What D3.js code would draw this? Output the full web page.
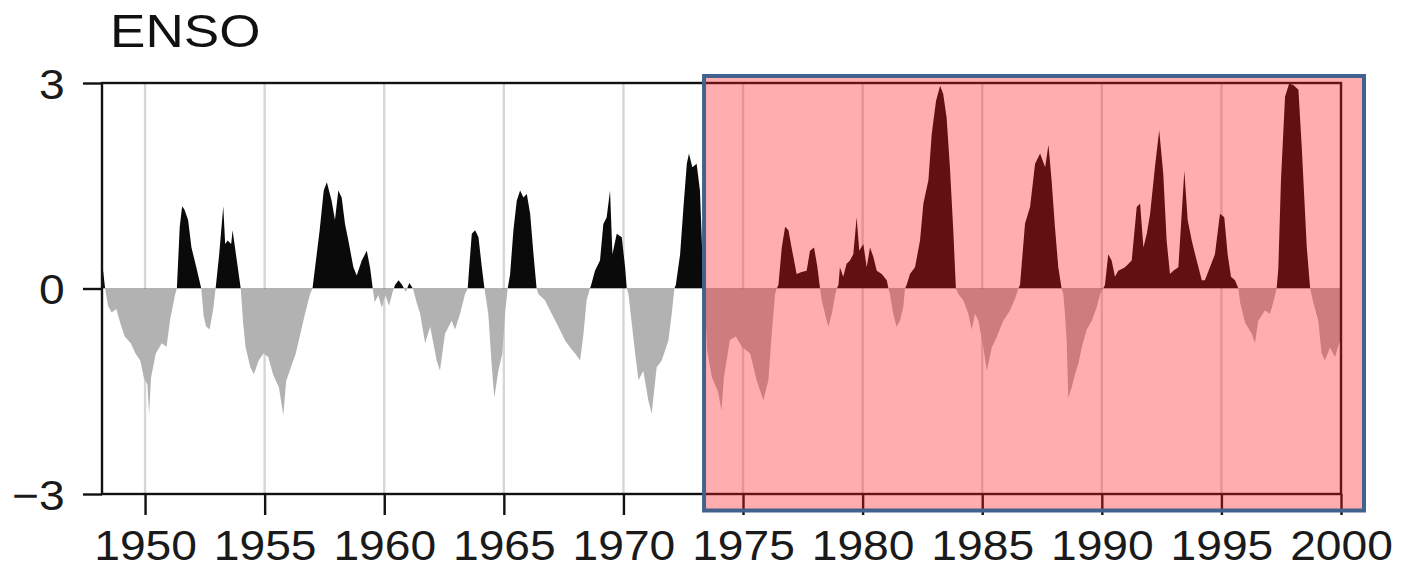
<!DOCTYPE html>
<html>
<head>
<meta charset="utf-8">
<script src="https://cdn.jsdelivr.net/npm/d3@7"></script>
<style>
  html, body { margin: 0; padding: 0; background: #fff; }
  svg { display: block; }
  text { font-family: "Liberation Sans", Arial, Helvetica, sans-serif; }
</style>
</head>
<body>
<svg id="chart" width="1403" height="568"></svg>
<script>
// ---- data ----
const title = "ENSO";
const xTicks = [1950, 1955, 1960, 1965, 1970, 1975, 1980, 1985, 1990, 1995, 2000];
const yTicks = [-3, 0, 3];
const highlightStart = 1973.35;   // start of shaded period

const years = [
 1948.15,1948.25,1948.33,1948.45,1948.6,1948.8,1948.96,1949.15,1949.4,1949.6,1949.8,1949.95,1950.1,1950.17,1950.25,1950.45,1950.7,1950.9,1951.05,1951.25,1951.33,
 1951.45,1951.55,1951.65,1951.8,1951.94,1952.15,1952.35,1952.45,1952.55,1952.7,1952.85,1952.95,
 1953.1,1953.27,1953.35,1953.45,1953.6,1953.66,1953.8,1954.0,
 1954.1,1954.2,1954.4,1954.55,1954.75,1954.95,1955.15,1955.35,1955.6,1955.78,1955.9,1956.1,1956.3,1956.5,1956.7,1956.9,1957.0,
 1957.3,1957.47,1957.6,1957.8,1957.94,1958.08,1958.22,1958.36,1958.5,1958.71,1958.85,1959.06,1959.27,1959.41,1959.52,
 1959.6,1959.75,1959.9,1960.05,1960.2,1960.35,1960.45,1960.6,1960.75,1960.9,1961.05,1961.2,
 1961.35,1961.5,1961.71,1961.92,1962.19,1962.33,1962.54,1962.82,1962.96,1963.17,1963.38,1963.49,
 1963.55,1963.66,1963.8,1963.94,1964.08,1964.19,
 1964.35,1964.49,1964.6,1964.77,1964.94,1965.05,1965.16,
 1965.26,1965.4,1965.54,1965.68,1965.82,1965.96,1966.1,1966.24,1966.37,
 1966.44,1966.72,1967.0,1967.28,1967.56,1967.77,1967.98,1968.19,1968.33,1968.46,1968.6,
 1968.65,1968.81,1969.02,1969.16,1969.3,1969.44,1969.54,1969.72,1969.93,1970.07,1970.14,
 1970.21,1970.49,1970.63,1970.83,1971.04,1971.18,1971.39,1971.6,1971.88,1972.02,1972.13,
 1972.19,1972.37,1972.51,1972.65,1972.74,1972.88,1973.06,1973.2,1973.35,
 1973.42,1973.5,1973.7,1973.95,1974.1,1974.2,1974.45,1974.7,1974.95,1975.3,1975.57,1975.85,1976.06,1976.2,1976.34,1976.41,
 1976.48,1976.62,1976.76,1976.9,1977.03,1977.24,1977.45,1977.66,1977.8,1977.97,1978.11,1978.22,
 1978.29,1978.5,1978.57,1978.71,1978.85,1978.92,
 1978.99,1979.05,1979.19,1979.33,1979.47,1979.61,1979.75,1979.86,1980.03,1980.17,1980.31,1980.45,1980.59,1980.8,1981.01,1981.08,
 1981.14,1981.28,1981.42,1981.56,1981.7,1981.77,
 1981.84,1981.98,1982.19,1982.4,1982.54,1982.75,1982.89,1983.07,1983.24,1983.37,1983.51,1983.65,1983.79,1983.9,
 1984.0,1984.21,1984.42,1984.56,1984.7,1984.84,1985.05,1985.19,1985.4,1985.6,1985.88,1986.16,1986.37,1986.51,
 1986.58,1986.79,1987.0,1987.21,1987.42,1987.63,1987.77,1987.9,1988.04,1988.18,1988.32,
 1988.39,1988.46,1988.53,1988.6,1988.74,1988.88,1989.02,1989.16,1989.37,1989.58,1989.79,1989.93,1990.06,
 1990.13,1990.27,1990.41,1990.55,1990.69,1990.97,1991.25,1991.46,1991.6,1991.74,1991.88,1992.02,1992.22,1992.4,1992.57,1992.71,1992.85,1992.99,1993.2,1993.34,1993.45,1993.59,1993.76,1993.9,1994.04,1994.18,1994.31,1994.52,1994.73,1994.94,1995.12,1995.26,1995.4,1995.57,1995.71,
 1995.78,1995.99,1996.27,1996.4,1996.54,1996.82,1997.03,1997.17,1997.31,
 1997.38,1997.49,1997.66,1997.83,1998.01,1998.22,1998.36,1998.57,1998.71,
 1998.84,1999.05,1999.19,1999.33,1999.54,1999.75,1999.96,2000.0
];
const enso = [
 0.3,0.25,0,-0.25,-0.35,-0.3,-0.5,-0.7,-0.8,-0.95,-1.05,-1.3,-1.4,-1.85,-1.3,-0.95,-0.8,-0.85,-0.45,-0.1,0,
 0.9,1.2,1.15,1.0,0.6,0.3,0,-0.4,-0.55,-0.6,-0.3,0,
 0.5,1.2,0.65,0.7,0.65,0.85,0.5,0,
 -0.5,-0.85,-1.15,-1.25,-1.05,-0.95,-1.0,-1.25,-1.45,-1.85,-1.35,-1.15,-0.95,-0.65,-0.35,-0.08,0,
 0.85,1.43,1.55,1.28,1.0,1.43,1.33,0.94,0.7,0.31,0.19,0.41,0.55,0.3,0,
 -0.2,-0.1,-0.28,-0.1,-0.25,-0.05,0.05,0.12,0.05,-0.05,0.08,0,
 -0.2,-0.37,-0.8,-0.56,-1.05,-1.2,-0.66,-0.47,-0.6,-0.37,-0.08,0,
 0.3,0.8,0.85,0.75,0.31,0,
 -0.37,-1.1,-1.6,-1.2,-0.95,-0.37,0,
 0.2,0.85,1.28,1.43,1.33,1.38,1.09,0.5,0,
 -0.08,-0.17,-0.37,-0.56,-0.76,-0.86,-0.95,-1.05,-0.66,-0.17,0,
 0.05,0.26,0.41,0.94,1.04,1.43,0.5,0.8,0.75,0.31,0,
 -0.08,-0.95,-1.34,-1.2,-1.63,-1.83,-1.15,-1.05,-0.76,-0.37,0,
 0.05,0.5,1.19,1.82,1.97,1.77,1.82,1.43,0,
 -0.3,-0.9,-1.3,-1.5,-1.78,-1.3,-0.75,-0.7,-0.85,-0.95,-1.34,-1.63,-1.34,-0.66,-0.08,0,
 0.05,0.6,0.9,0.85,0.6,0.21,0.24,0.26,0.55,0.6,0.31,0,
 -0.17,-0.47,-0.56,-0.37,-0.1,0,
 0.05,0.31,0.17,0.36,0.41,0.5,1.04,0.55,0.65,0.31,0.6,0.46,0.26,0.21,0.12,0,
 -0.08,-0.37,-0.56,-0.47,-0.27,0,
 0.05,0.21,0.31,0.7,1.24,1.58,2.26,2.74,2.96,2.84,2.5,1.77,0.85,0,
 -0.08,-0.17,-0.37,-0.6,-0.37,-0.47,-0.86,-1.2,-0.86,-0.71,-0.47,-0.32,-0.15,0,
 0.05,0.95,1.19,1.82,1.97,1.77,2.1,1.58,0.9,0.31,0,
 -0.08,-0.37,-0.76,-1.6,-1.44,-1.25,-1.1,-0.86,-0.6,-0.47,-0.27,-0.08,0,
 0.05,0.5,0.41,0.17,0.26,0.31,0.41,1.19,1.24,0.6,0.8,1.09,1.77,2.31,1.67,0.7,0.21,0.26,0.31,1.09,1.72,1.0,0.7,0.5,0.31,0.12,0.12,0.31,0.5,1.09,1.04,0.5,0.17,0.12,0,
 -0.2,-0.5,-0.66,-0.8,-0.47,-0.32,-0.37,-0.2,0,
 0.3,1.58,2.8,2.99,2.97,2.9,2.06,0.6,0,
 -0.2,-0.47,-0.95,-1.05,-0.86,-1.0,-0.76,-0.8
];

// ---- layout ----
const svg = d3.select("#chart");
const pL = 102, pR = 1341, pT = 83, pB = 494;

const x = d3.scaleLinear().domain([1948.2, 2000]).range([pL, pR]);
const y = d3.scaleLinear().domain([-3, 3]).range([pB, pT]);

const data = years.map((t, i) => ({t, v: enso[i]}));

const defs = svg.append("defs");
defs.append("clipPath").attr("id", "clipPos").append("rect")
  .attr("x", pL).attr("y", pT).attr("width", pR - pL).attr("height", y(0) - pT);
defs.append("clipPath").attr("id", "clipNeg").append("rect")
  .attr("x", pL).attr("y", y(0)).attr("width", pR - pL).attr("height", pB - y(0));

// vertical grid lines
svg.append("g").selectAll("line")
  .data(xTicks.filter(d => d < 2000))
  .join("line")
  .attr("x1", d => x(d)).attr("x2", d => x(d))
  .attr("y1", pT).attr("y2", pB)
  .attr("stroke", "#d6d6d6").attr("stroke-width", 2.4);

const area = d3.area()
  .x(d => x(d.t))
  .y0(y(0))
  .y1(d => y(d.v));

svg.append("path").datum(data)
  .attr("clip-path", "url(#clipNeg)")
  .attr("fill", "#b2b2b2")
  .attr("d", area);
svg.append("path").datum(data)
  .attr("clip-path", "url(#clipPos)")
  .attr("fill", "#0a0a0a")
  .attr("d", area);

// frame
svg.append("rect")
  .attr("x", pL).attr("y", pT)
  .attr("width", pR - pL).attr("height", pB - pT)
  .attr("fill", "none").attr("stroke", "#111").attr("stroke-width", 2.4);

// x axis
const gx = svg.append("g").attr("transform", `translate(0,${pB})`)
  .call(d3.axisBottom(x).tickValues(xTicks).tickSize(21).tickSizeOuter(0).tickFormat(d3.format("d")));
gx.select(".domain").remove();
gx.selectAll(".tick line").attr("stroke", "#111").attr("stroke-width", 2.4);
gx.selectAll(".tick text")
  .attr("y", 66).attr("dy", null)
  .attr("font-size", 42).attr("fill", "#1a1a1a")
  .attr("transform", "scale(1.1,1)");

// y axis
const gy = svg.append("g").attr("transform", `translate(${pL},0)`)
  .call(d3.axisLeft(y).tickValues(yTicks).tickSize(19).tickSizeOuter(0).tickFormat(d3.format("d")));
gy.select(".domain").remove();
gy.selectAll(".tick line").attr("stroke", "#111").attr("stroke-width", 2.4);
gy.selectAll(".tick text")
  .attr("x", -34).attr("dy", "0.36em")
  .attr("font-size", 42).attr("fill", "#1a1a1a")
  .attr("transform", "scale(1.1,1)");

// title
svg.append("text")
  .attr("transform", "translate(110,47) scale(1.13,1)")
  .attr("font-size", 47).attr("fill", "#111")
  .text(title);

// highlight overlay (from highlightStart to beyond plot end)
const hx0 = x(highlightStart) + 0.5;
svg.append("rect")
  .attr("x", hx0).attr("y", pT - 7)
  .attr("width", 1364 - hx0).attr("height", pB - pT + 23.5)
  .attr("fill", "rgba(255,28,33,0.36)")
  .attr("stroke", "#41618f").attr("stroke-width", 4);
</script>
</body>
</html>
